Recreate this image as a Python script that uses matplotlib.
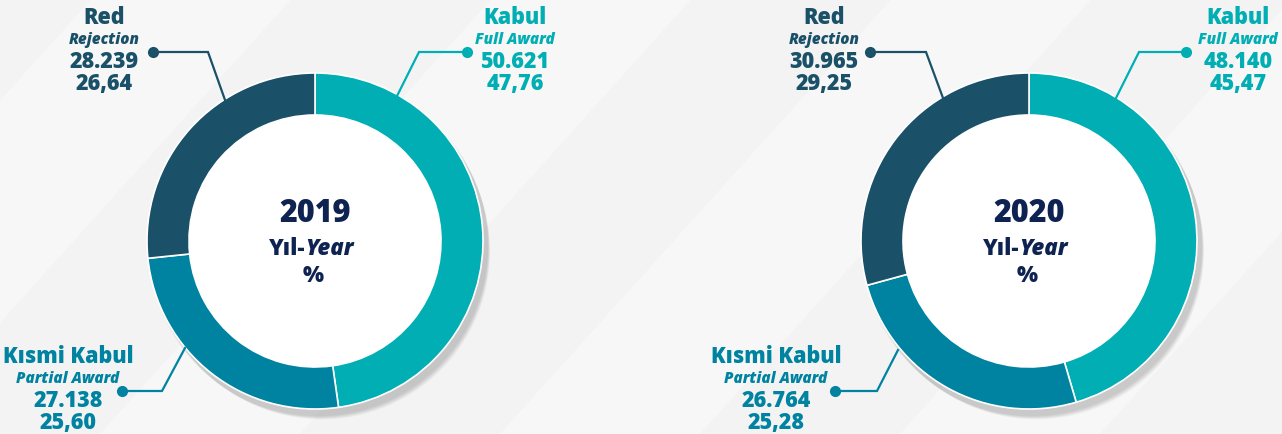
import matplotlib.pyplot as plt
from matplotlib.patches import Wedge, Polygon

W, H = 1282, 434

years = ["2019", "2020"]
labels_tr = ["Kabul", "Kısmi Kabul", "Red"]
labels_en = ["Full Award", "Partial Award", "Rejection"]
counts = [["50.621", "27.138", "28.239"], ["48.140", "26.764", "30.965"]]
shares = [[47.76, 25.60, 26.64], [45.47, 25.28, 29.25]]
shares_txt = [["47,76", "25,60", "26,64"], ["45,47", "25,28", "29,25"]]
colors = ["#00AEB3", "#0083A1", "#1A5068"]
navy = "#0E2351"

# layout in pixel coords (y measured from top)
centers = [(315, 241), (1029, 241)]
R_OUT, R_W = 168, 42
# label block centre x / top row y per slice, per chart
label_pos = [
    [(515, 18), (68, 357), (104, 18)],
    [(1238, 18), (776, 357), (824, 18)],
]
# leader lines: dot -> elbow -> ring
leaders = [
    [[(467, 52), (419, 52), (397, 96)],
     [(122, 391), (162, 391), (185, 348)],
     [(153, 52), (208, 52), (225, 100)]],
    [[(1186, 52), (1139, 52), (1116, 98)],
     [(835, 391), (877, 391), (898, 350)],
     [(870, 52), (926, 52), (943, 98)]],
]

plt.rcParams['font.family'] = ['Open Sans', 'DejaVu Sans']

fig = plt.figure(figsize=(W / 100, H / 100), dpi=100)
fig.patch.set_facecolor("#F3F3F4")
ax = fig.add_axes([0, 0, 1, 1])
ax.set_facecolor("#F3F3F4")


def fy(y):
    return H - y


# faint diagonal bands in the background
for x0 in [-300, 100, 500, 900, 1300]:
    ax.add_patch(Polygon([(x0, 0), (x0 + 200, 0), (x0 + 200 + 434 * 0.9, H), (x0 + 434 * 0.9, H)],
                         closed=True, facecolor="white", alpha=0.35, edgecolor="none", zorder=0))

for i, year in enumerate(years):
    cx, cy = centers[i]

    # soft drop shadow under the ring
    for k in range(8):
        ax.add_patch(Wedge((cx + 3 + k * 0.6, fy(cy) - 5 - k * 0.8), R_OUT + 2 - k * 0.3, 0, 360,
                           width=R_W + 4, facecolor="black", alpha=0.025, edgecolor="none", zorder=1))

    ax.pie(shares[i], radius=R_OUT, center=(cx, fy(cy)), startangle=90, counterclock=False,
           colors=colors, wedgeprops=dict(width=R_W, edgecolor="white", linewidth=1.2))

    ax.add_patch(Wedge((cx, fy(cy)), R_OUT - R_W, 0, 360, facecolor="white", edgecolor="none", zorder=1.5))

    # centre text
    ax.text(cx, fy(214), year, ha="center", va="center", fontsize=22, fontweight="heavy", color=navy)
    ax.text(cx - 10, fy(249), "Yıl-", ha="right", va="center", fontsize=16, fontweight="heavy", color=navy)
    ax.text(cx - 10, fy(249), "Year", ha="left", va="center", fontsize=16, fontweight="heavy",
            style="italic", color=navy)
    ax.text(cx - 2, fy(276), "%", ha="center", va="center", fontsize=16, fontweight="heavy", color=navy)

    for j in range(3):
        lx, ly = label_pos[i][j]
        c = colors[j]
        ax.text(lx, fy(ly), labels_tr[j], ha="center", va="center", fontsize=15.5, fontweight="heavy", color=c)
        ax.text(lx, fy(ly + 22), labels_en[j], ha="center", va="center", fontsize=11, fontweight="heavy",
                style="italic", color=c)
        ax.text(lx, fy(ly + 44), counts[i][j], ha="center", va="center", fontsize=15.5, fontweight="heavy", color=c)
        ax.text(lx, fy(ly + 66), shares_txt[i][j], ha="center", va="center", fontsize=15.5, fontweight="heavy", color=c)

        pts = leaders[i][j]
        ax.plot([p[0] for p in pts], [fy(p[1]) for p in pts], color=c, lw=1.6, zorder=3,
                solid_joinstyle="miter")
        ax.plot(pts[0][0], fy(pts[0][1]), "o", color=c, ms=7, zorder=4)

ax.set_xlim(0, W)
ax.set_ylim(0, H)
ax.set_aspect("auto")
ax.axis("off")

fig.savefig("out.png", dpi=100, facecolor=fig.get_facecolor())
